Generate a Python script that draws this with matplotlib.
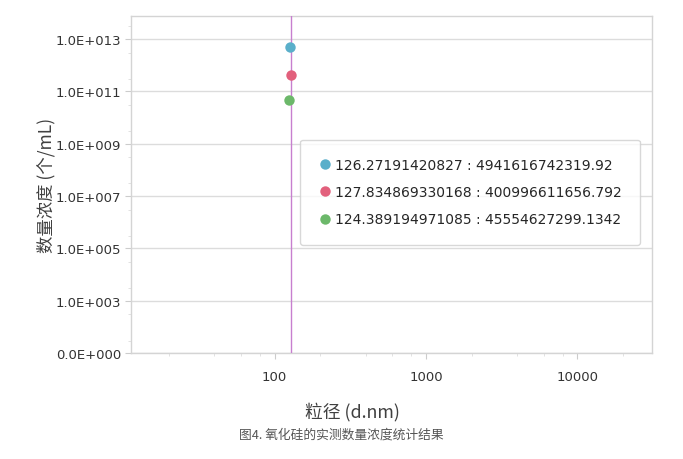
# -*- coding: utf-8 -*-
"""
氧化硅的实测数量浓度统计结果 — number concentration vs particle size.
"""
import matplotlib
matplotlib.use("Agg")
import matplotlib.pyplot as plt
from matplotlib.ticker import FixedLocator, FixedFormatter, LogLocator, NullFormatter

# measured points (size in d.nm, concentration in 个/mL)
sizes = [126.27191420827, 127.834869330168, 124.389194971085]
concs = [4941616742319.92, 400996611656.792, 45554627299.1342]
labels = [
    "126.27191420827 : 4941616742319.92",
    "127.834869330168 : 400996611656.792",
    "124.389194971085 : 45554627299.1342",
]
colors = ["#5aafca", "#e2607c", "#6cb86a"]

peak_line = 128.0
y_ticks = [1e1, 1e3, 1e5, 1e7, 1e9, 1e11, 1e13]
y_tick_labels = ["0.0E+000", "1.0E+003", "1.0E+005", "1.0E+007",
                 "1.0E+009", "1.0E+011", "1.0E+013"]
x_ticks = [100, 1000, 10000]
x_tick_labels = ["100", "1000", "10000"]

CJK = ["Noto Sans CJK SC", "DejaVu Sans"]
GRID = "#dcdcdc"
TEXT = "#333333"

fig = plt.figure(figsize=(6.83, 4.60), dpi=100)
ax = fig.add_axes([0.1914, 0.2304, 0.7628, 0.7326])

ax.set_xscale("log")
ax.set_yscale("log")
ax.set_xlim(11.2, 31000)
ax.set_ylim(1e1, 7.5e13)

for x, y, c, lab in zip(sizes, concs, colors, labels):
    ax.plot([x], [y], "o", color=c, markersize=7.5, markeredgewidth=0,
            label=lab, zorder=4)

ax.axvline(peak_line, color="#c77fcf", linewidth=1.0, zorder=3)

ax.yaxis.set_major_locator(FixedLocator(y_ticks))
ax.yaxis.set_major_formatter(FixedFormatter(y_tick_labels))
ax.yaxis.set_minor_locator(LogLocator(base=10, subs=(3.0,), numticks=20))
ax.yaxis.set_minor_formatter(NullFormatter())
ax.xaxis.set_major_locator(FixedLocator(x_ticks))
ax.xaxis.set_major_formatter(FixedFormatter(x_tick_labels))
ax.xaxis.set_minor_locator(LogLocator(base=10, subs=(2.0, 4.0, 6.0, 8.0), numticks=20))
ax.xaxis.set_minor_formatter(NullFormatter())

ax.grid(axis="y", which="major", color=GRID, linewidth=1.0)
ax.set_axisbelow(True)
for s in ax.spines.values():
    s.set_color("#d4d4d4")
    s.set_linewidth(1.0)
ax.tick_params(axis="both", which="major", length=4, color="#cccccc",
               labelsize=9.5, labelcolor=TEXT)
ax.tick_params(axis="both", which="minor", length=2, color="#dddddd")
ax.tick_params(axis="x", which="major", pad=8)
ax.tick_params(axis="y", which="major", pad=3)

ax.set_ylabel("数量浓度 (个/mL)", family=CJK, fontsize=12.5, color="#404040")
ax.yaxis.set_label_coords(-0.145, 0.5)
ax.set_xlabel("粒径 (d.nm)", family=CJK, fontsize=12.8, color="#404040")
ax.xaxis.set_label_coords(0.425, -0.143)

leg = ax.legend(loc="upper left", bbox_to_anchor=(300 / 683, 1 - 140.5 / 460),
                bbox_transform=fig.transFigure, frameon=True, fancybox=True,
                handletextpad=0.25, handlelength=1.0, borderpad=1.3,
                labelspacing=0.97, fontsize=10, borderaxespad=0)
leg.get_frame().set_edgecolor("#cfcfcf")
leg.get_frame().set_linewidth(1.0)
for t in leg.get_texts():
    t.set_color("#262626")

fig.text(0.4993, 1 - 435 / 460, "图4. 氧化硅的实测数量浓度统计结果", family=CJK,
         fontsize=9.2, color="#555555", ha="center", va="center")

fig.savefig("out.png", dpi=100, facecolor="white")
